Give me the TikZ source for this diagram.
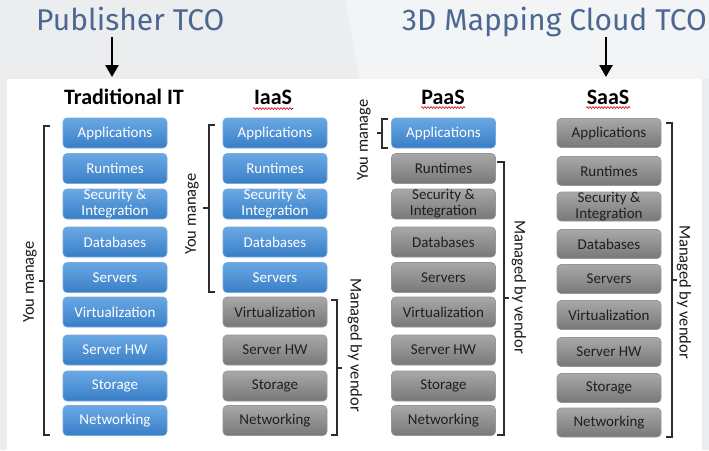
\documentclass[tikz,border=0pt]{standalone}
\usepackage{fontspec}
\newfontfamily\calib{Carlito}
\newfontfamily\titlef{Fira Sans}
\usetikzlibrary{arrows.meta,decorations.pathmorphing}
\definecolor{bg}{HTML}{ECEDEF}
\definecolor{bglight}{HTML}{F3F4F5}
\definecolor{titleblue}{RGB}{74,104,145}
\definecolor{bluetop}{RGB}{106,168,228}
\definecolor{bluebot}{RGB}{56,126,198}
\definecolor{blueedge}{RGB}{120,170,220}
\definecolor{graytop}{RGB}{168,168,168}
\definecolor{graybot}{RGB}{120,120,120}
\definecolor{grayedge}{RGB}{150,150,150}
\definecolor{brk}{RGB}{45,45,45}
\tikzset{
  box/.style={rounded corners=4pt, minimum width=104pt, minimum height=30pt, inner sep=0pt, align=center, line width=0.6pt, font=\calib\fontsize{15}{16}\selectfont},
  bluebox/.style={box, draw=blueedge, top color=bluetop, bottom color=bluebot, text=white},
  graybox/.style={box, draw=grayedge, top color=graytop, bottom color=graybot, text=black!88},
  head/.style={font=\calib\bfseries\fontsize{22}{22}\selectfont, anchor=base, inner sep=0pt},
  ttl/.style={font=\titlef\fontsize{30}{30}\selectfont, text=titleblue, anchor=base west, inner sep=0pt},
  lbl/.style={font=\calib\fontsize{16.5}{16.5}\selectfont, inner sep=0pt, text=black!90},
  brace/.style={draw=brk, line width=1.1pt},
  bigarrow/.style={line width=2.6pt, -{Triangle[width=13pt,length=12pt]}},
  spell/.style={draw=red!85!black, line width=0.6pt, decorate, decoration={snake, amplitude=0.9pt, segment length=3pt}}
}
\begin{document}
\begin{tikzpicture}[x=1pt,y=-1pt]
\useasboundingbox (0,0) rectangle (709,450);
\fill[bg] (0,0) rectangle (709,450);
\fill[bglight] (345,0) -- (709,0) -- (709,79) -- (360,79) -- cycle;
\fill[white] (7,79) rectangle (702,450);

% titles and arrows
\node[ttl] (pub) at (36,30) {Publisher TCO};
\node[ttl] (map) at (402,30) {3D Mapping Cloud TCO};
\coordinate (a1s) at (112,37);
\coordinate (a1e) at (112,77);
\coordinate (a2s) at (606,37);
\coordinate (a2e) at (606,77);
\draw[bigarrow] (a1s) -- (a1e);
\draw[bigarrow] (a2s) -- (a2e);

% headings
\node[head] (hT) at (124,104) {Traditional IT};
\node[head] (hI) at (273,104) {IaaS};
\node[head] (hP) at (443,104) {PaaS};
\node[head] (hS) at (608,104) {SaaS};
\coordinate (uI1) at (253,108.5); \coordinate (uI2) at (293,108.5);
\coordinate (uP1) at (421,107.5); \coordinate (uP2) at (465,107.5);
\coordinate (uS1) at (586,107.5); \coordinate (uS2) at (630,107.5);
\draw[spell] (uI1) -- (uI2);
\draw[spell] (uP1) -- (uP2);
\draw[spell] (uS1) -- (uS2);

% columns
\foreach \n/\y/\t in {1/133/Applications,2/168.5/Runtimes,3/204/{Security \&\\Integration},4/242/Databases,5/277.5/Servers,6/312/Virtualization,7/350/Server HW,8/386/Storage,9/420.5/Networking}{
  \node[bluebox] (t\n) at (115,\y) {\t};
  \ifnum\n<6
    \node[bluebox] (i\n) at (275,\y) {\t};
  \else
    \node[graybox] (i\n) at (275,\y) {\t};
  \fi
  \ifnum\n<2
    \node[bluebox] (p\n) at (443.5,\y) {\t};
  \else
    \node[graybox] (p\n) at (443.5,\y) {\t};
  \fi
}
\foreach \n/\y/\t in {1/133/Applications,2/171/Runtimes,3/206.5/{Security \&\\Integration},4/244/Databases,5/279/Servers,6/315/Virtualization,7/352/Server HW,8/388/Storage,9/422.5/Networking}{
  \node[graybox, minimum height=29pt] (s\n) at (609,\y) {\t};
}

% brackets
\draw[brace] (50,126) -- (44,126) -- (44,435) -- (50,435) (44,281) -- (39,281);
\node[lbl, rotate=90] (lT) at (30,282) {You manage};

\draw[brace] (215,125) -- (209,125) -- (209,292) -- (215,292) (209,208) -- (203,208);
\node[lbl, rotate=90] (lI) at (192,214) {You manage};

\draw[brace] (331,300) -- (337,300) -- (337,435) -- (331,435) (337,368) -- (342,368);
\node[lbl, rotate=-90] (vI) at (355,345) {Managed by vendor};

\draw[brace] (388,119) -- (382,119) -- (382,148) -- (388,148) (382,133) -- (377,133);
\node[lbl, rotate=90] (lP) at (364,140) {You manage};

\draw[brace] (497,162) -- (504,162) -- (504,435) -- (497,435) (504,298) -- (509,298);
\node[lbl, rotate=-90] (vP) at (519,287) {Managed by vendor};

\draw[brace] (666,123) -- (672,123) -- (672,437) -- (666,437) (672,280) -- (677,280);
\node[lbl, rotate=-90] (vS) at (684,292) {Managed by vendor};
\end{tikzpicture}
\end{document}
